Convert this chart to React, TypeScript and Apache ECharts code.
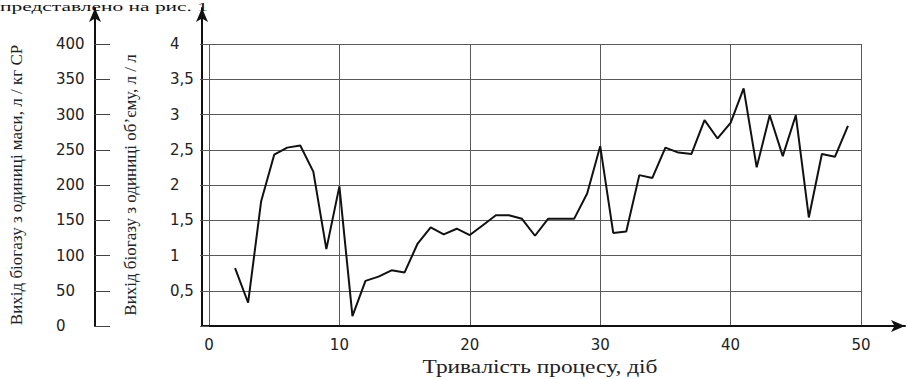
import React, { useEffect, useRef } from "react";
import * as echarts from "echarts";

const days = [2, 3, 4, 5, 6, 7, 8, 9, 10, 11, 12, 13, 14, 15, 16, 17, 18, 19, 20, 21, 22, 23, 24, 25, 26, 27, 28, 29, 30, 31, 32, 33, 34, 35, 36, 37, 38, 39, 40, 41, 42, 43, 44, 45, 46, 47, 48, 49];
const volumeYield = [0.82, 0.33, 1.77, 2.43, 2.53, 2.56, 2.19, 1.09, 1.98, 0.14, 0.64, 0.70, 0.79, 0.76, 1.17, 1.40, 1.30, 1.38, 1.29, 1.43, 1.57, 1.57, 1.52, 1.28, 1.52, 1.52, 1.52, 1.88, 2.55, 1.32, 1.34, 2.14, 2.10, 2.53, 2.46, 2.44, 2.92, 2.66, 2.88, 3.37, 2.25, 2.99, 2.41, 2.99, 1.54, 2.44, 2.40, 2.84];

const xRange = [0, 50];
const xStep = 10;
const volRange = [0, 4];
const volStep = 0.5;
const massRange = [0, 400];
const massStep = 50;

const xTitle = "Тривалість процесу, діб";
const volTitle = "Вихід біогазу з одиниці об’єму, л / л";
const massTitle = "Вихід біогазу з одиниці маси, л / кг СР";
const captionText = "представлено на рис. 1";

const sans = "DejaVu Sans";
const serif = "Liberation Serif";

export default function App() {
  const ref = useRef<HTMLDivElement>(null);
  useEffect(() => {
    document.body.style.margin = "0";
    if (!ref.current) return;
    const chart = echarts.init(ref.current, null, { renderer: "svg" });
    const gridLine = { color: "#5a5a5a", width: 1 };
    const labelStyle = { color: "#222", fontFamily: sans, fontSize: 15 };
    const arrowLine = {
      show: true,
      symbol: ["none", "arrow"],
      symbolSize: [9, 14],
      lineStyle: { color: "#111", width: 2 },
    };
    chart.setOption({
      animation: false,
      backgroundColor: "#fff",
      grid: [
        { left: 202, right: 46, top: 44, bottom: 53, containLabel: false },
        { left: 202, right: 2, top: 8, bottom: 53, containLabel: false },
      ],
      xAxis: [
        {
          type: "value",
          gridIndex: 0,
          min: xRange[0],
          max: xRange[1],
          interval: xStep,
          axisLine: { show: false },
          axisTick: { show: false },
          splitLine: { show: true, lineStyle: gridLine },
          axisLabel: { ...labelStyle, margin: 11 },
        },
        {
          type: "value",
          gridIndex: 1,
          min: 0,
          max: 1,
          axisLine: arrowLine,
          axisTick: { show: false },
          axisLabel: { show: false },
          splitLine: { show: false },
        },
      ],
      yAxis: [
        {
          type: "value",
          gridIndex: 0,
          min: volRange[0],
          max: volRange[1],
          interval: volStep,
          axisLine: { show: false },
          axisTick: { show: true, length: 9, lineStyle: gridLine },
          splitLine: { show: true, lineStyle: gridLine },
          axisLabel: {
            ...labelStyle,
            align: "left",
            margin: 39,
            formatter: (v: number) => (v === 0 ? "" : String(v).replace(".", ",")),
          },
          name: volTitle,
          nameLocation: "middle",
          nameRotate: 90,
          nameGap: 70,
          nameTextStyle: { fontFamily: serif, fontSize: 17, color: "#222" },
        },
        {
          type: "value",
          gridIndex: 0,
          position: "left",
          offset: 107,
          min: massRange[0],
          max: massRange[1],
          interval: massStep,
          axisLine: { show: false },
          axisTick: { show: true, length: 8, lineStyle: { color: "#444", width: 1 } },
          splitLine: { show: false },
          axisLabel: { ...labelStyle, align: "left", margin: 46 },
          name: massTitle,
          nameLocation: "middle",
          nameRotate: 90,
          nameGap: 77,
          nameTextStyle: { fontFamily: serif, fontSize: 17, color: "#222" },
        },
        {
          type: "value",
          gridIndex: 0,
          position: "left",
          offset: 107,
          min: massRange[0],
          max: massRange[1],
          interval: massStep,
          axisLine: { show: false },
          axisTick: { show: true, inside: true, length: 8, lineStyle: { color: "#444", width: 1 } },
          splitLine: { show: false },
          axisLabel: { show: false },
        },
        {
          type: "value",
          gridIndex: 1,
          min: 0,
          max: 1,
          axisLine: arrowLine,
          axisTick: { show: false },
          axisLabel: { show: false },
          splitLine: { show: false },
        },
        {
          type: "value",
          gridIndex: 1,
          position: "left",
          offset: 107,
          min: 0,
          max: 1,
          axisLine: arrowLine,
          axisTick: { show: false },
          axisLabel: { show: false },
          splitLine: { show: false },
        },
      ],
      graphic: [
        {
          type: "text",
          x: 0,
          y: 0,
          scaleX: 1.65,
          style: {
            text: captionText,
            x: 0,
            y: 0,
            font: `13px ${serif}`,
            fill: "#111",
            textVerticalAlign: "top",
          },
        },
        {
          type: "text",
          x: 540,
          y: 367,
          scaleX: 1.3,
          style: {
            text: xTitle,
            x: 0,
            y: 0,
            font: `18px ${serif}`,
            fill: "#222",
            textAlign: "center",
            textVerticalAlign: "middle",
          },
        },
      ],
      series: [
        {
          type: "line",
          xAxisIndex: 0,
          yAxisIndex: 0,
          data: days.map((d, i) => [d, volumeYield[i]]),
          symbol: "none",
          lineStyle: { color: "#111", width: 2 },
        },
      ],
    });
    return () => chart.dispose();
  }, []);
  return <div ref={ref} style={{ width: 907, height: 379 }} />;
}
